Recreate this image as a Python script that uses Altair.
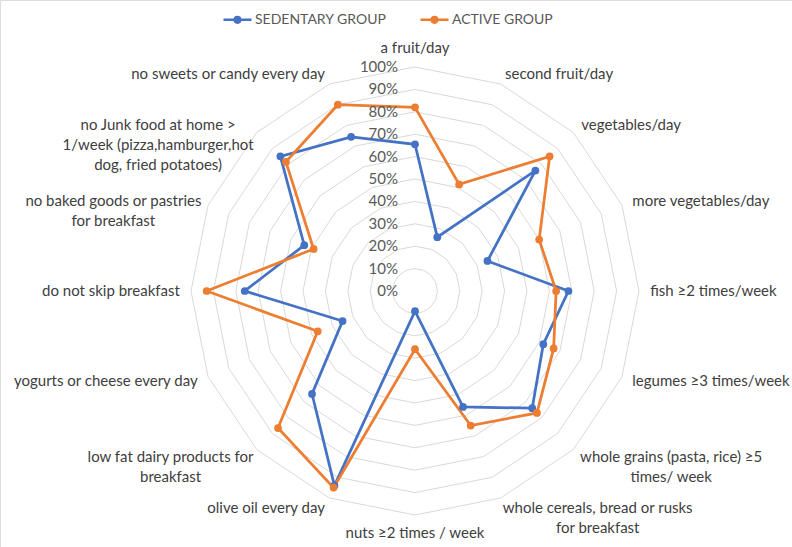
import math
import altair as alt
import pandas as pd

# ---------------- data ----------------
categories = [
    "a fruit/day",
    "second fruit/day",
    "vegetables/day",
    "more vegetables/day",
    "fish ≥2 times/week",
    "legumes ≥3 times/week",
    "whole grains (pasta, rice) ≥5\ntimes/ week",
    "whole cereals, bread or rusks\nfor breakfast",
    "nuts ≥2 times / week",
    "olive oil every day",
    "low fat dairy products for\nbreakfast",
    "yogurts or cheese every day",
    "do not skip breakfast",
    "no baked goods or pastries\nfor breakfast",
    "no Junk food at home >\n1/week (pizza,hamburger,hot\ndog, fried potatoes)",
    "no sweets or candy every day",
]
sedentary = [65.5, 26, 76, 35, 68.5, 62, 74, 56, 9, 94, 65, 35, 76, 53.5, 85, 74.5]
active = [82, 51.5, 85, 60, 63, 67, 77, 65, 26, 95, 86.5, 47, 93, 49, 81.5, 90]
groups = ["SEDENTARY GROUP", "ACTIVE GROUP"]
colors = ["#4472C4", "#ED7D31"]
ticks = [0, 10, 20, 30, 40, 50, 60, 70, 80, 90, 100]

# ---------------- layout constants ----------------
W, H = 792, 547
CX, CY = 415, 291          # pixel position of the centre
RPX = 224                  # pixel length of 100 %
PPU = RPX / 100.0          # pixels per data unit
XDOM = [-CX / PPU, (W - CX) / PPU]
YDOM = [-(H - CY) / PPU, CY / PPU]
N = len(categories)
LABEL_R = 105.0
FONT = "Lato"
FS = 15

xs = alt.Scale(domain=XDOM, nice=False, zero=False)
ys = alt.Scale(domain=YDOM, nice=False, zero=False)
X = alt.X("x:Q", scale=xs, axis=None)
Y = alt.Y("y:Q", scale=ys, axis=None)

# series table
rows = []
for g, vals in zip(groups, [sedentary, active]):
    for i, v in enumerate(vals):
        rows.append({"idx": i, "category": categories[i], "group": g, "value": v})
series = pd.DataFrame(rows)

# grid rings
grid = pd.DataFrame([{"ring": t, "idx": i} for t in ticks[1:] for i in range(N)])

# percentage labels
pct = pd.DataFrame({"tick": ticks, "label": [f"{t}%" for t in ticks]})


def est_width(s):
    w = 0.0
    for ch in s:
        if ch in "iljtfr ,.;:'()/![]|":
            w += 0.28
        elif ch in "mw":
            w += 0.78
        elif ch in "MW":
            w += 0.90
        elif ch.isupper():
            w += 0.62
        elif ch in "≥>%":
            w += 0.56
        else:
            w += 0.50
    return w * FS


lab_rows = []
for i, c in enumerate(categories):
    th = i * 2 * math.pi / N
    s = math.sin(th)
    lines = c.split("\n")
    hw = max(est_width(l) for l in lines) / 2
    if len(lines) > 1:
        pos = "cr" if s > 0 else "cl"
        shift = (hw / PPU) * (1 if s > 0 else -1)
    elif s > 0.1:
        pos, shift = "left", 0.0
    elif s < -0.1:
        pos, shift = "right", 0.0
    elif math.cos(th) > 0:
        pos, shift = "top", 0.0
    else:
        pos, shift = "bottom", 0.0
    lab_rows.append({"idx": i, "label": c, "pos": pos, "shift": shift})
labels = pd.DataFrame(lab_rows)

ANG = "datum.idx * 2 * PI / %d" % N

grid_layer = (
    alt.Chart(grid)
    .transform_calculate(th=ANG)
    .transform_calculate(x="datum.ring * sin(datum.th)", y="datum.ring * cos(datum.th)")
    .mark_line(interpolate="linear-closed", color="#D9D9D9", strokeWidth=1)
    .encode(x=X, y=Y, detail="ring:N", order="idx:Q")
)

color = alt.Color(
    "group:N",
    scale=alt.Scale(domain=groups, range=colors),
    legend=alt.Legend(
        title=None,
        orient="none",
        direction="horizontal",
        legendX=222,
        legendY=4,
        padding=0,
        symbolType="M-1,0L-0.2,0M0.2,0L1,0M0.2,0A0.2,0.2,0,1,1,-0.2,0A0.2,0.2,0,1,1,0.2,0",
        symbolSize=784,
        symbolStrokeWidth=2.5,
        labelOffset=2,
        columnPadding=28,
        labelFont=FONT,
        labelFontSize=14,
        labelColor="#595959",
    ),
)

base = (
    alt.Chart(series)
    .transform_calculate(th=ANG)
    .transform_calculate(x="datum.value * sin(datum.th)", y="datum.value * cos(datum.th)")
)

line_layer = base.mark_line(interpolate="linear-closed", strokeWidth=2.75).encode(
    x=X, y=Y, color=color, order="idx:Q", detail="group:N"
)
point_layer = base.mark_circle(size=60, opacity=1).encode(
    x=X,
    y=Y,
    color=alt.Color("group:N", scale=alt.Scale(domain=groups, range=colors), legend=None),
)

pct_layer = (
    alt.Chart(pct)
    .transform_calculate(x="0", y="datum.tick")
    .mark_text(align="right", baseline="middle", dx=-17, font=FONT, fontSize=FS, color="#595959")
    .encode(x=X, y=Y, text="label:N")
)

lab_base = (
    alt.Chart(labels)
    .transform_calculate(th=ANG)
    .transform_calculate(
        x="%f * sin(datum.th) + datum.shift" % LABEL_R, y="%f * cos(datum.th)" % LABEL_R
    )
)


def lab_layer(pos, align, baseline):
    return (
        lab_base.transform_filter(alt.datum.pos == pos)
        .mark_text(
            align=align,
            baseline=baseline,
            font=FONT,
            fontSize=FS,
            color="#404040",
            lineBreak="\n",
            lineHeight=20,
        )
        .encode(x=X, y=Y, text="label:N")
    )


label_layers = [
    lab_layer("left", "left", "middle"),
    lab_layer("right", "right", "middle"),
    lab_layer("top", "center", "bottom"),
    lab_layer("bottom", "center", "top"),
    lab_layer("cr", "center", "middle"),
    lab_layer("cl", "center", "middle"),
]

chart = (
    alt.layer(grid_layer, line_layer, point_layer, pct_layer, *label_layers)
    .properties(width=W, height=H, padding=0, autosize=alt.AutoSizeParams(type="none"))
    .configure_view(stroke=None)
    .configure(background="white")
)

chart.save("out.html", embed_options={"renderer": "svg", "actions": False})
